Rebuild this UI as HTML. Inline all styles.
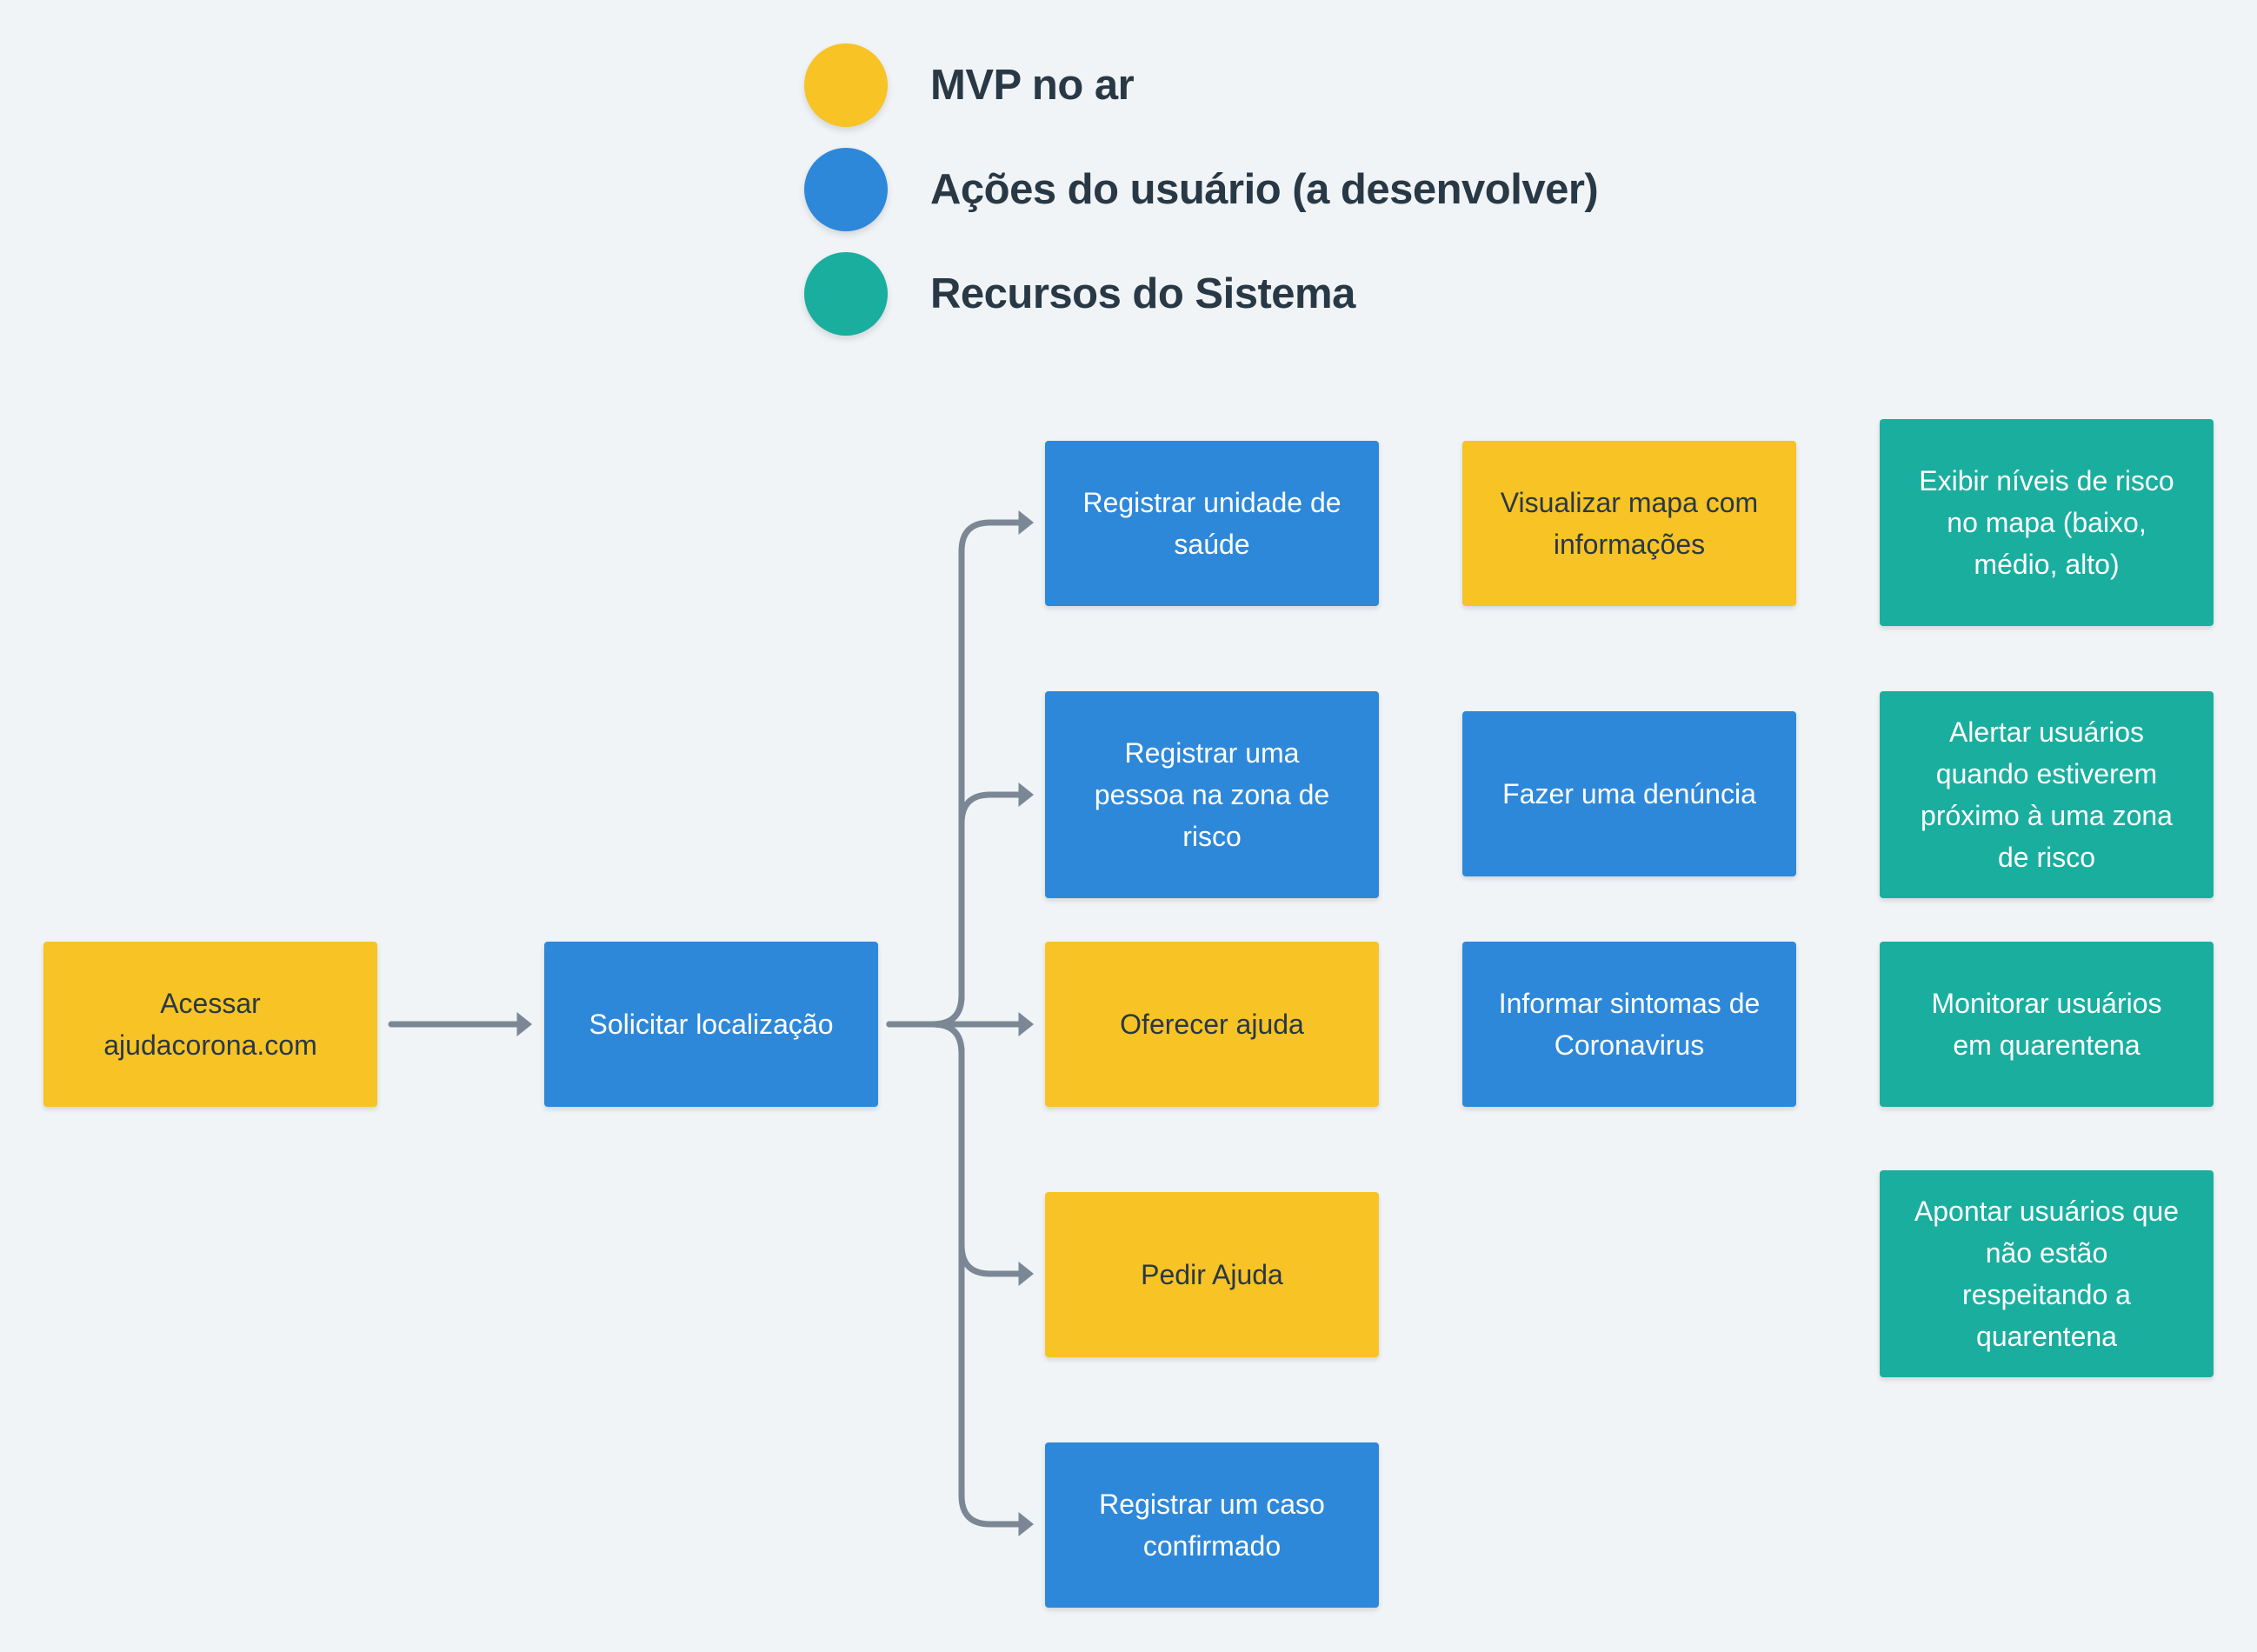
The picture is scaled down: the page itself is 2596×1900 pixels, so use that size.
<!DOCTYPE html>
<html><head><meta charset="utf-8"><style>
html,body{margin:0;padding:0}
body{width:2596px;height:1900px;background:#f0f4f7;position:relative;overflow:hidden;font-family:"Liberation Sans",sans-serif}
.b{position:absolute;width:384px;display:flex;align-items:center;justify-content:center;text-align:center;font-size:32px;line-height:48px;border-radius:4px;box-shadow:0 3px 6px rgba(0,0,0,0.12);box-sizing:border-box;padding:0 10px;white-space:nowrap}
.y{background:#f7c325;color:#293845}
.u{background:#2e88d9;color:#fff}
.t{background:#1aae9f;color:#fff}
.c{position:absolute;width:96px;height:96px;border-radius:50%;left:925px;box-shadow:0 4px 8px rgba(0,0,0,0.12)}
.l{position:absolute;left:1070px;font-size:49px;font-weight:bold;color:#293845;line-height:60px;letter-spacing:-0.5px}
</style></head><body>
<div class="c" style="top:50px;background:#f7c325"></div>
<div class="c" style="top:170px;background:#2e88d9"></div>
<div class="c" style="top:290px;background:#1aae9f"></div>
<div class="l" style="top:68px">MVP no ar</div>
<div class="l" style="top:188px">Ações do usuário (a desenvolver)</div>
<div class="l" style="top:308px">Recursos do Sistema</div>

<svg width="2596" height="1900" style="position:absolute;left:0;top:0">
<defs><marker id="a" markerWidth="4" markerHeight="4" refX="1.5" refY="2" orient="auto" markerUnits="strokeWidth"><path d="M0,0 L2.5,2 L0,4 Z" fill="#7b8794"/></marker></defs>
<g fill="none" stroke="#7b8794" stroke-width="7" stroke-linecap="round" marker-end="url(#a)">
<path d="M450,1178 H605"/>
<path d="M1023,1178 H1182"/>
<path d="M1023,1178 H1073 Q1106,1178 1106,1145 V634 Q1106,601 1139,601 H1182"/>
<path d="M1023,1178 H1073 Q1106,1178 1106,1145 V947 Q1106,914 1139,914 H1182"/>
<path d="M1023,1178 H1073 Q1106,1178 1106,1211 V1432 Q1106,1465 1139,1465 H1182"/>
<path d="M1023,1178 H1073 Q1106,1178 1106,1211 V1720 Q1106,1753 1139,1753 H1182"/>
</g>
</svg>

<div class="b y" style="left:50px;top:1083px;height:190px">Acessar<br>ajudacorona.com</div>
<div class="b u" style="left:626px;top:1083px;height:190px">Solicitar localização</div>

<div class="b u" style="left:1202px;top:507px;height:190px">Registrar unidade de<br>saúde</div>
<div class="b u" style="left:1202px;top:795px;height:238px">Registrar uma<br>pessoa na zona de<br>risco</div>
<div class="b y" style="left:1202px;top:1083px;height:190px">Oferecer ajuda</div>
<div class="b y" style="left:1202px;top:1371px;height:190px">Pedir Ajuda</div>
<div class="b u" style="left:1202px;top:1659px;height:190px">Registrar um caso<br>confirmado</div>

<div class="b y" style="left:1682px;top:507px;height:190px">Visualizar mapa com<br>informações</div>
<div class="b u" style="left:1682px;top:818px;height:190px">Fazer uma denúncia</div>
<div class="b u" style="left:1682px;top:1083px;height:190px">Informar sintomas de<br>Coronavirus</div>

<div class="b t" style="left:2162px;top:482px;height:238px">Exibir níveis de risco<br>no mapa (baixo,<br>médio, alto)</div>
<div class="b t" style="left:2162px;top:795px;height:238px">Alertar usuários<br>quando estiverem<br>próximo à uma zona<br>de risco</div>
<div class="b t" style="left:2162px;top:1083px;height:190px">Monitorar usuários<br>em quarentena</div>
<div class="b t" style="left:2162px;top:1346px;height:238px">Apontar usuários que<br>não estão<br>respeitando a<br>quarentena</div>
</body></html>
